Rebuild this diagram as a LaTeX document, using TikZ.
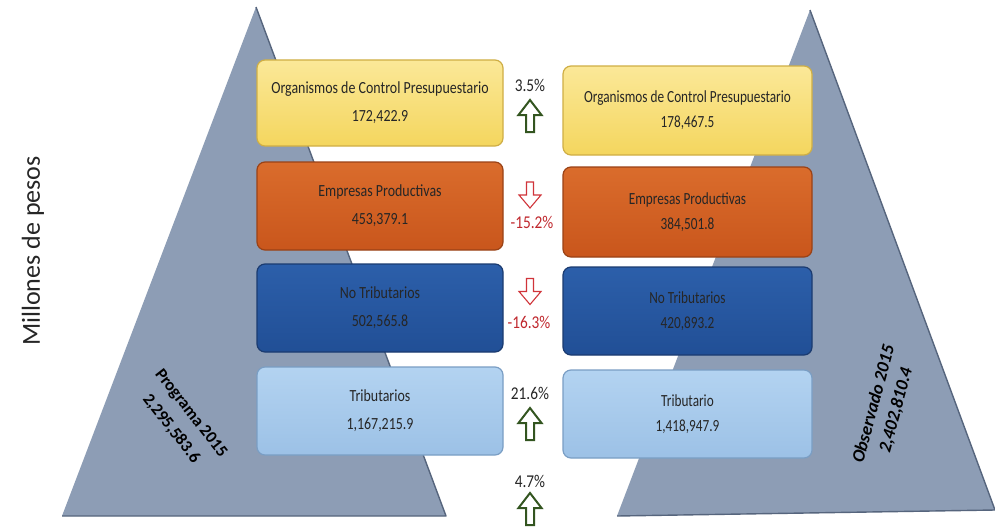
\documentclass[tikz,border=0pt]{standalone}
\usepackage{fontspec}
\setmainfont{Carlito}
\newfontfamily\lbf[FakeStretch=0.82]{Carlito}
\newfontfamily\rbf[FakeStretch=0.78]{Carlito}
\newfontfamily\pcf[FakeStretch=0.85]{Carlito}
\definecolor{trifill}{HTML}{8D9DB5}
\definecolor{triedge}{HTML}{56657D}
\definecolor{ytop}{HTML}{FBE898}
\definecolor{ybot}{HTML}{F4D65E}
\definecolor{yedge}{HTML}{CFAE45}
\definecolor{otop}{HTML}{DA6C2C}
\definecolor{obot}{HTML}{C9561C}
\definecolor{oedge}{HTML}{9A4216}
\definecolor{btop}{HTML}{2C5FAA}
\definecolor{bbot}{HTML}{214F96}
\definecolor{bedge}{HTML}{1B3B70}
\definecolor{ltop}{HTML}{B3D3F1}
\definecolor{lbot}{HTML}{9CC1E6}
\definecolor{ledge}{HTML}{7A9EC4}
\definecolor{txt}{HTML}{262626}
\definecolor{pred}{HTML}{C0282E}
\definecolor{agreen}{HTML}{335520}
\definecolor{ared}{HTML}{D0343A}
\tikzset{
  tri/.style={fill=trifill},
  triline/.style={draw=triedge, line width=1.4pt, line join=round},
  box/.style={rectangle, rounded corners=8pt, line width=1.2pt, align=center, text=txt},
  lbox/.style={box, minimum width=246pt, font=\lbf\fontsize{17}{28}\selectfont},
  rbox/.style={box, minimum width=249pt, font=\rbf\fontsize{17}{25}\selectfont},
  yel/.style={top color=ytop, bottom color=ybot, draw=yedge},
  ora/.style={top color=otop, bottom color=obot, draw=oedge},
  dbl/.style={top color=btop, bottom color=bbot, draw=bedge},
  lbl/.style={top color=ltop, bottom color=lbot, draw=ledge},
  pct/.style={font=\pcf\fontsize{18}{20}\selectfont, text=txt, inner sep=1pt},
  pctred/.style={pct, text=pred, fill=white},
  uparrow/.pic={\path[pic actions] (-4,16) -- (-4,-1) -- (-11.5,-1) -- (0,-16) -- (11.5,-1) -- (4,-1) -- (4,16) -- cycle;},
  downarrow/.pic={\path[pic actions] (-3.5,-13) -- (-3.5,0) -- (-11,0) -- (0,13) -- (11,0) -- (3.5,0) -- (3.5,-13) -- cycle;},
  greenarr/.style={draw=agreen, fill=white, line width=2pt, line join=miter},
  redarr/.style={draw=ared, fill=white, line width=1.1pt, line join=miter},
}
\begin{document}
\begin{tikzpicture}[x=1pt,y=-1pt]
\useasboundingbox (0,0) rectangle (995,527);
\fill[white] (0,0) rectangle (995,527);
% triangles
\path[tri] (256,7) -- (446,516) -- (62,516) -- cycle;
\draw[triline] (256,7) -- (446,516) -- (62,516);
\path[tri] (810,10) -- (995,510) -- (617,516) -- cycle;
\draw[triline] (810,10) -- (995,510) -- (617,516);
% axis label
\node[rotate=90, font=\fontsize{26}{30}\selectfont, text=txt] (ylab) at (33,251) {Millones de pesos};
% triangle labels
\node[rotate=-52, align=center, text=black, font=\bfseries\fontsize{17}{25}\selectfont] (prog) at (181,421) {Programa 2015\\2,295,583.6};
\node[rotate=75, align=center, text=black, font=\bfseries\itshape\fontsize{18}{23}\selectfont] (obs) at (885,407) {Observado 2015\\2,402,810.4};
% left boxes
\node[lbox, yel, minimum height=86pt] (l1) at (380,103) {Organismos de Control Presupuestario\\172,422.9};
\node[lbox, ora, minimum height=88pt] (l2) at (380,206) {Empresas Productivas\\453,379.1};
\node[lbox, dbl, minimum height=88pt] (l3) at (380,308) {No Tributarios\\502,565.8};
\node[lbox, lbl, minimum height=88pt] (l4) at (380,411) {Tributarios\\1,167,215.9};
% right boxes
\node[rbox, yel, minimum height=89pt] (r1) at (687.5,110.5) {Organismos de Control Presupuestario\\178,467.5};
\node[rbox, ora, minimum height=90pt] (r2) at (687.5,212) {Empresas Productivas\\384,501.8};
\node[rbox, dbl, minimum height=88pt] (r3) at (687.5,311) {No Tributarios\\420,893.2};
\node[rbox, lbl, minimum height=88pt] (r4) at (687.5,414) {Tributario\\1,418,947.9};
% percentages
\node[pct] (p1) at (530,85) {3.5\%};
\node[pctred] (p2) at (532,222) {-15.2\%};
\node[pctred] (p3) at (529,322) {-16.3\%};
\node[pct] (p4) at (530,393) {21.6\%};
\node[pct] (p5) at (530,481) {4.7\%};
% arrows
\pic[greenarr] at (530,116) {uparrow};
\pic[redarr] at (530,195) {downarrow};
\pic[redarr] at (530,291.5) {downarrow};
\pic[greenarr] at (530,424) {uparrow};
\pic[greenarr] at (530,509) {uparrow};
\end{tikzpicture}
\end{document}
